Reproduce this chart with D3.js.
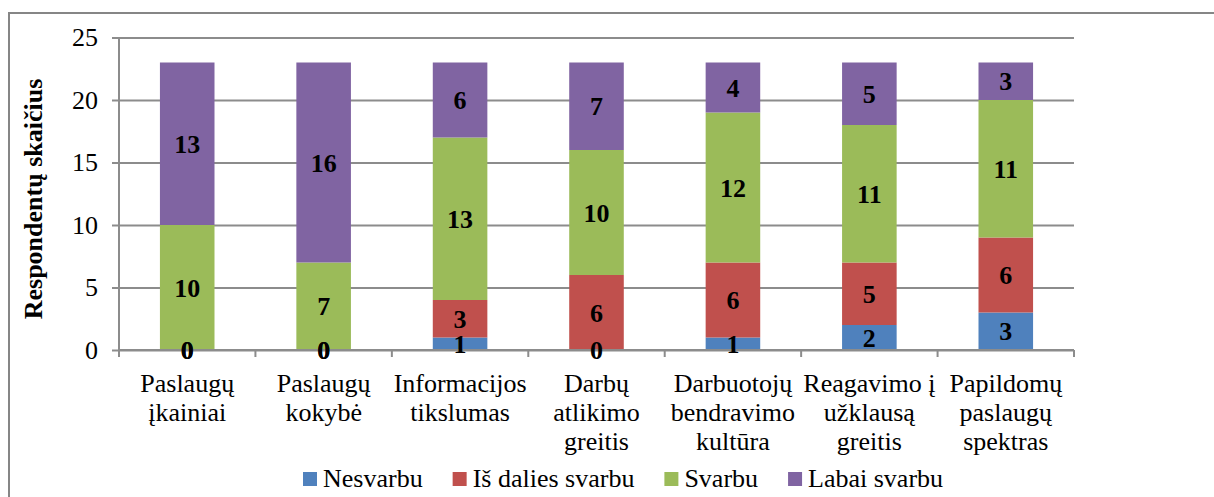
<!DOCTYPE html>
<meta charset="utf-8">
<style>
body { margin: 0; background: #fff; }
svg, svg text { font-family: "Liberation Serif", "Times New Roman", Times, serif; }
.grid line { stroke: #8c8c8c; stroke-width: 2; }
.grid path { display: none; }
.axis path, .axis line { stroke: #8c8c8c; stroke-width: 2; }
.label { font-weight: bold; font-size: 26px; fill: #000; }
</style>
<svg width="1214" height="497"></svg>
<script src="https://d3js.org/d3.v7.min.js"></script>
<script>

// categories (line breaks as in the picture)
var categories = [
  "Paslaugų\nįkainiai",
  "Paslaugų\nkokybė",
  "Informacijos\ntikslumas",
  "Darbų\natlikimo\ngreitis",
  "Darbuotojų\nbendravimo\nkultūra",
  "Reagavimo į\nužklausą\ngreitis",
  "Papildomų\npaslaugų\nspektras"
];

var seriesNames = ["Nesvarbu", "Iš dalies svarbu", "Svarbu", "Labai svarbu"];
var colors = ["#4F81BD", "#C0504D", "#9BBB59", "#8064A2"];

var nesvarbu       = [0, 0, 1, 0, 1, 2, 3];
var isDaliesSvarbu = [0, 0, 3, 6, 6, 5, 6];
var svarbu         = [10, 7, 13, 10, 12, 11, 11];
var labaiSvarbu    = [13, 16, 6, 7, 4, 5, 3];

var yTicks = [0, 5, 10, 15, 20, 25];
var yTitle = "Respondentų skaičius";

var FONT = '"Liberation Serif", "Times New Roman", serif';

var svg = d3.select("svg").attr("font-family", FONT);

/* outer frame: only left and top edges are inside the picture */
svg.append("rect")
    .attr("x", 9).attr("y", 13)
    .attr("width", 1400).attr("height", 700)
    .attr("fill", "none")
    .attr("stroke", "#868686")
    .attr("stroke-width", 2);

var plotLeft = 119, plotRight = 1074, plotTop = 37.5, plotBottom = 350;

var x = d3.scaleBand().domain(d3.range(categories.length))
    .range([plotLeft, plotRight]).paddingInner(0.6).paddingOuter(0.3);
var y = d3.scaleLinear().domain([0, 25]).range([plotBottom, plotTop]);

/* gridlines */
svg.append("g")
    .attr("class", "grid")
    .attr("transform", "translate(" + plotLeft + ",0)")
    .call(d3.axisLeft(y).tickValues(yTicks).tickSize(-(plotRight - plotLeft)).tickFormat(""));

/* stacked data */
var rows = categories.map(function(c, i) {
  return { i: i, s0: nesvarbu[i], s1: isDaliesSvarbu[i], s2: svarbu[i], s3: labaiSvarbu[i] };
});
var layers = d3.stack().keys(["s0", "s1", "s2", "s3"])(rows);

var layerG = svg.selectAll(".layer")
  .data(layers)
  .enter().append("g")
    .attr("class", "layer");

layerG.selectAll("rect")
  .data(function(d) { return d; })
  .enter().append("rect")
    .attr("fill", function() { return colors[d3.select(this.parentNode).datum().index]; })
    .attr("x", function(d) { return x(d.data.i); })
    .attr("y", function(d) { return y(d[1]); })
    .attr("width", x.bandwidth())
    .attr("height", function(d) { return y(d[0]) - y(d[1]); });

/* y axis */
var yAxis = svg.append("g")
    .attr("class", "axis")
    .attr("transform", "translate(" + plotLeft + ",0)")
    .call(d3.axisLeft(y).tickValues(yTicks).tickSize(7).tickPadding(14));
yAxis.attr("font-family", FONT).attr("font-size", 26);
yAxis.select(".domain").attr("d", "M0," + plotTop + "V" + plotBottom);
yAxis.selectAll("text").attr("fill", "#000").attr("dy", "0.32em");

/* x axis line and ticks at category boundaries */
var xAxis = svg.append("g").attr("class", "axis");
xAxis.append("line")
    .attr("x1", plotLeft).attr("x2", plotRight)
    .attr("y1", plotBottom).attr("y2", plotBottom);
xAxis.selectAll(".xtick")
  .data(d3.range(categories.length + 1))
  .enter().append("line")
    .attr("x1", function(i) { return plotLeft + i * x.step(); })
    .attr("x2", function(i) { return plotLeft + i * x.step(); })
    .attr("y1", plotBottom).attr("y2", plotBottom + 7);

/* category labels */
var catText = svg.selectAll(".cat")
  .data(categories)
  .enter().append("text")
    .attr("class", "cat")
    .attr("text-anchor", "middle")
    .attr("font-size", 26)
    .attr("transform", function(d, i) {
      return "translate(" + (x(i) + x.bandwidth() / 2) + ",392)";
    });
catText.selectAll("tspan")
  .data(function(d) { return d.split("\n"); })
  .enter().append("tspan")
    .attr("x", 0)
    .attr("y", function(d, j) { return j * 29; })
    .text(function(d) { return d; });

/* data labels, drawn above all bars */
var labelG = svg.append("g");
layers.forEach(function(layer) {
  labelG.selectAll(null)
    .data(layer)
    .enter().append("text")
      .attr("class", "label")
      .attr("text-anchor", "middle")
      .attr("x", function(d) { return x(d.data.i) + x.bandwidth() / 2; })
      .attr("y", function(d) { return (y(d[0]) + y(d[1])) / 2; })
      .attr("dy", "0.35em")
      .text(function(d) { return d[1] - d[0]; });
});

/* y axis title */
svg.append("text")
    .attr("transform", "translate(42,199) rotate(-90)")
    .attr("text-anchor", "middle")
    .attr("font-weight", "bold")
    .attr("font-size", 26)
    .text(yTitle);

/* legend */
var legend = svg.append("g").attr("transform", "translate(303,487)");
var lx = 0;
seriesNames.forEach(function(name, k) {
  var item = legend.append("g").attr("transform", "translate(" + lx + ",0)");
  item.append("rect")
      .attr("x", 0).attr("y", -15)
      .attr("width", 14).attr("height", 14)
      .attr("fill", colors[k]);
  var t = item.append("text")
      .attr("x", 20)
      .attr("font-size", 26)
      .text(name);
  lx += 20 + t.node().getComputedTextLength() + 30;
});

</script>
